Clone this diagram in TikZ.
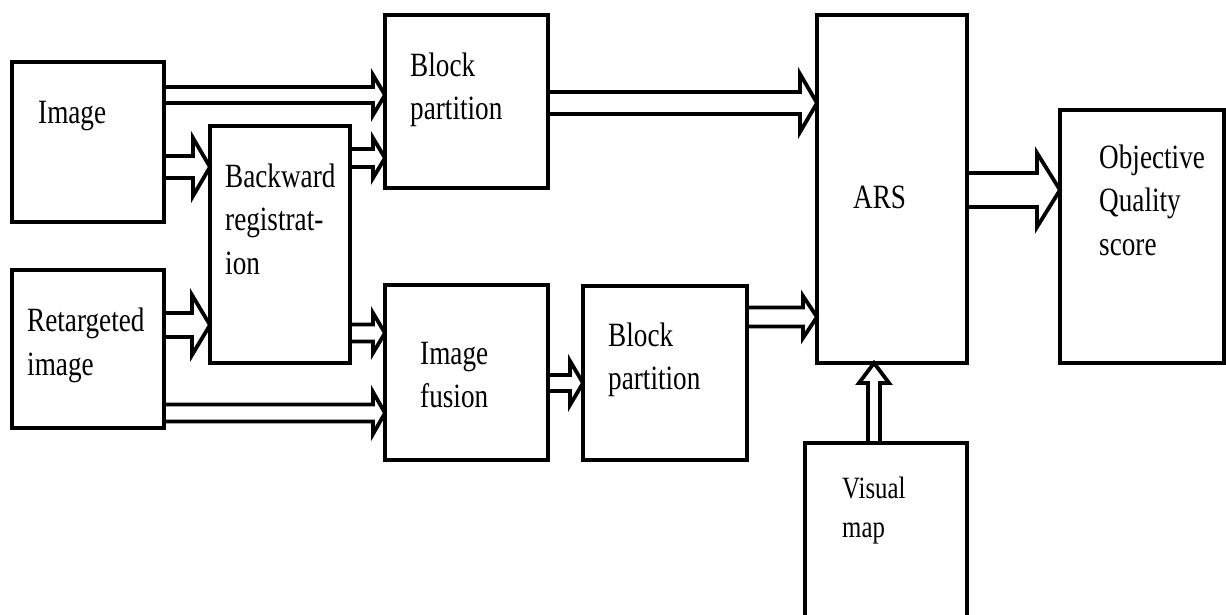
\documentclass[tikz,border=0pt]{standalone}
\usepackage{fontspec}
\usetikzlibrary{calc}
\newfontfamily\tnr[FakeStretch=0.8]{Liberation Serif}
\newcommand\harr[6]{\draw[barrow] let \p1=(#1), \p2=(#2), \p3=(0,#3) in
 (\x1,\y3+#4pt) -- (\x2-#6pt,\y3+#4pt) -- (\x2-#6pt,\y3+#5pt) -- (\x2,\y3)
 -- (\x2-#6pt,\y3-#5pt) -- (\x2-#6pt,\y3-#4pt) -- (\x1,\y3-#4pt);}
\newcommand\varr[6]{\draw[barrow] let \p1=(#1), \p2=(#2), \p3=(#3,0) in
 (\x3-#4pt,\y1) -- (\x3-#4pt,\y2-#6pt) -- (\x3-#5pt,\y2-#6pt) -- (\x3,\y2)
 -- (\x3+#5pt,\y2-#6pt) -- (\x3+#4pt,\y2-#6pt) -- (\x3+#4pt,\y1);}
\begin{document}
\begin{tikzpicture}[x=1pt,y=-1pt,
  box/.style={draw,line width=4pt,inner sep=0pt,outer sep=0pt},
  barrow/.style={draw,line width=3.8pt,miter limit=20},
  txt/.style={anchor=base west,inner sep=0pt,align=left,
    font=\tnr\fontsize{34}{43.5}\selectfont}]
\clip (0,0) rectangle (1226,614);
\fill[white] (0,0) rectangle (1226,614);
\node[box,minimum width=152pt,minimum height=160pt] (img) at (88,142) {};
\node[box,minimum width=152pt,minimum height=158pt] (ret) at (88,349) {};
\node[box,minimum width=140pt,minimum height=237pt] (bw) at (280,244.5) {};
\node[box,minimum width=163pt,minimum height=173pt] (bp1) at (466.5,101.5) {};
\node[box,minimum width=163pt,minimum height=175pt] (fus) at (466.5,372.5) {};
\node[box,minimum width=164pt,minimum height=174pt] (bp2) at (665,373) {};
\node[box,minimum width=150pt,minimum height=348pt] (ars) at (892,189) {};
\node[box,minimum width=164pt,minimum height=253pt] (obj) at (1142,236.5) {};
\node[box,minimum width=162pt,minimum height=200pt] (vis) at (886,543) {};
\node[txt] (imgt) at (38,123) {Image};
\node[txt] (rett) at (27,375) {Retargeted\\image};
\node[txt] (bwt) at (225,274) {Backward\\registrat-\\ion};
\node[txt] (bp1t) at (410,119.5) {Block\\partition};
\node[txt] (fust) at (420,407.5) {Image\\fusion};
\node[txt] (bp2t) at (608,389.5) {Block\\partition};
\node[txt] (arst) at (853,208) {ARS};
\node[txt] (objt) at (1099,255) {Objective\\Quality\\score};
\node[txt,font=\tnr\fontsize{31}{39}\selectfont] (vist) at (842,537) {Visual\\map};
\harr{img.east}{bp1.west}{95}{8}{20}{12}
\harr{img.east}{bw.west}{167}{11}{29}{17}
\harr{bw.east}{bp1.west}{158}{9}{20}{12}
\harr{ret.east}{bw.west}{325}{12}{30}{18}
\harr{bw.east}{fus.west}{333}{8.5}{20}{12}
\harr{ret.east}{fus.west}{413}{8.5}{21}{12}
\harr{bp1.east}{ars.west}{103}{11}{29}{17}
\harr{fus.east}{bp2.west}{383}{8}{22}{13}
\harr{bp2.east}{ars.west}{317}{9.5}{21}{14}
\harr{ars.east}{obj.west}{190}{17}{37}{23}
\varr{vis.north}{ars.south}{874}{6}{15}{20}
\end{tikzpicture}
\end{document}
